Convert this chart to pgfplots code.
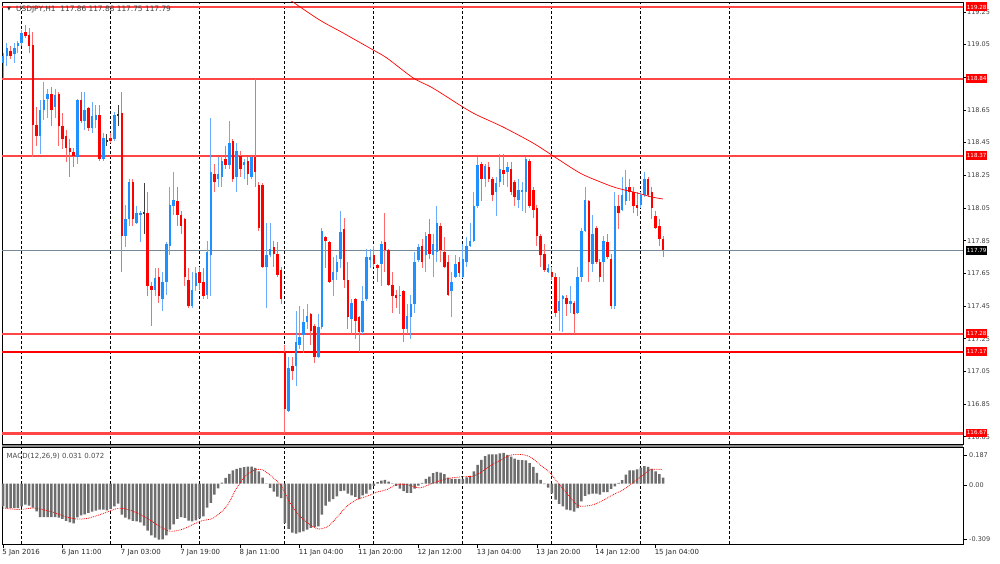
\documentclass[border=0pt]{standalone}
\usepackage{pgfplots}
\pgfplotsset{compat=1.18}
\usepackage{pgfplotstable}
\usepackage{fontspec}
\setmainfont{DejaVu Sans}
\definecolor{bodyblue}{RGB}{30,144,255}
\definecolor{wickblue}{RGB}{105,172,255}
\definecolor{bodyred}{RGB}{255,0,0}
\definecolor{wickred}{RGB}{255,105,105}
\definecolor{linered}{RGB}{255,70,70}
\definecolor{bidgray}{RGB}{119,136,153}
\definecolor{histgray}{RGB}{110,110,110}
\newcommand\lab{\fontsize{7}{8}\selectfont}
\newcommand\tlab{\fontsize{7.4}{8.4}\selectfont}
\newcommand\plab{\fontsize{6.5}{7.5}\selectfont}
\newcommand\blab{\fontsize{5.6}{6}\selectfont}
\pgfplotsset{
  candle/.style={draw=none, mark=none, no markers,
    error bars/.cd, y dir=both, y explicit, error mark=none,
    error bar style={draw=#1}},
  level/.style={draw=#1, mark=none, no markers},
}

\pgfplotstableread{
i o h l c
-5 118.94 119.00 118.84 118.98
-4 118.98 119.06 118.92 119.03
-3 119.01 119.04 118.96 118.98
-2 118.99 119.06 118.94 119.03
-1 119.04 119.07 119.00 119.06
0 119.06 119.14 119.04 119.12
1 119.13 119.17 119.09 119.10
2 119.11 119.15 119.00 119.04
3 119.05 119.13 118.36 118.56
4 118.56 118.67 118.43 118.49
5 118.49 118.71 118.38 118.65
6 118.65 118.82 118.59 118.71
7 118.72 118.78 118.60 118.75
8 118.75 118.79 118.55 118.65
9 118.67 118.78 118.60 118.74
10 118.75 118.76 118.43 118.55
11 118.55 118.63 118.41 118.47
12 118.49 118.53 118.33 118.42
13 118.42 118.47 118.24 118.39
14 118.39 118.42 118.30 118.37
15 118.36 118.72 118.32 118.71
16 118.71 118.76 118.57 118.58
17 118.58 118.76 118.53 118.65
18 118.66 118.67 118.52 118.54
19 118.54 118.70 118.51 118.61
20 118.59 118.68 118.54 118.62
21 118.62 118.68 118.34 118.35
22 118.35 118.51 118.34 118.48
23 118.46 118.50 118.43 118.46
24 118.48 118.51 118.45 118.46
25 118.47 118.64 118.46 118.62
26 118.62 118.68 118.55 118.62
27 118.63 118.76 117.66 117.88
28 117.88 118.07 117.81 117.98
29 117.98 118.23 117.94 118.21
30 118.21 118.23 117.94 117.98
31 117.96 118.06 117.95 118.02
32 118.01 118.03 117.84 118.02
33 118.02 118.20 117.89 118.02
34 118.02 118.15 117.51 117.57
35 117.57 117.60 117.33 117.55
36 117.55 117.68 117.51 117.62
37 117.63 117.68 117.47 117.51
38 117.49 117.66 117.42 117.60
39 117.60 117.84 117.52 117.83
40 117.82 118.18 117.76 118.07
41 118.06 118.27 118.01 118.10
42 118.09 118.18 117.94 118.01
43 118.01 118.03 117.89 117.94
44 117.98 117.99 117.57 117.63
45 117.61 117.68 117.44 117.45
46 117.45 117.66 117.44 117.55
47 117.57 117.69 117.54 117.65
48 117.66 117.69 117.55 117.59
49 117.60 117.68 117.49 117.51
50 117.52 117.85 117.49 117.78
51 117.76 118.60 117.51 118.27
52 118.26 118.32 118.15 118.21
53 118.23 118.36 118.18 118.26
54 118.24 118.37 118.18 118.34
55 118.35 118.43 118.29 118.31
56 118.31 118.58 118.29 118.45
57 118.46 118.47 118.21 118.23
58 118.24 118.45 118.15 118.40
59 118.37 118.40 118.24 118.29
60 118.31 118.35 118.23 118.33
61 118.34 118.36 118.19 118.26
62 118.24 118.37 118.23 118.36
63 118.36 118.84 118.18 118.27
64 118.19 118.21 117.91 117.93
65 118.19 118.20 117.68 117.69
66 117.69 117.96 117.44 117.76
67 117.76 117.96 117.75 117.80
68 117.81 117.85 117.69 117.77
69 117.77 117.84 117.63 117.64
70 117.67 117.69 117.46 117.49
71 117.17 117.21 116.67 116.82
72 116.81 117.14 116.80 117.07
73 117.08 117.14 117.00 117.05
74 117.08 117.42 116.96 117.23
75 117.21 117.45 117.19 117.26
76 117.27 117.43 117.16 117.35
77 117.35 117.46 117.31 117.39
78 117.40 117.41 117.21 117.30
79 117.33 117.34 117.10 117.14
80 117.14 117.40 117.13 117.32
81 117.32 117.93 117.31 117.91
82 117.87 117.88 117.68 117.85
83 117.84 117.85 117.59 117.60
84 117.61 117.75 117.51 117.66
85 117.66 117.76 117.61 117.72
86 117.74 118.03 117.68 117.90
87 117.92 117.99 117.56 117.61
88 117.61 117.72 117.31 117.38
89 117.37 117.49 117.28 117.47
90 117.49 117.50 117.25 117.36
91 117.38 117.39 117.17 117.29
92 117.29 117.57 117.28 117.48
93 117.49 117.80 117.48 117.75
94 117.73 117.80 117.68 117.75
95 117.76 117.82 117.69 117.71
96 117.70 117.71 117.60 117.68
97 117.71 117.85 117.57 117.83
98 117.84 118.02 117.66 117.79
99 117.79 117.80 117.57 117.58
100 117.58 117.66 117.41 117.51
101 117.52 117.55 117.44 117.50
102 117.51 117.57 117.40 117.52
103 117.54 117.55 117.23 117.31
104 117.31 117.46 117.28 117.39
105 117.38 117.52 117.25 117.46
106 117.46 117.78 117.41 117.72
107 117.73 117.83 117.72 117.81
108 117.82 117.86 117.68 117.72
109 117.76 117.90 117.66 117.88
110 117.89 117.98 117.74 117.77
111 117.76 117.89 117.63 117.83
112 117.78 118.06 117.72 117.96
113 117.94 117.96 117.72 117.79
114 117.78 117.87 117.68 117.69
115 117.72 117.76 117.51 117.52
116 117.54 117.66 117.38 117.60
117 117.63 117.76 117.62 117.71
118 117.72 117.75 117.63 117.65
119 117.63 117.83 117.62 117.74
120 117.72 117.87 117.69 117.82
121 117.82 117.96 117.81 117.85
122 117.85 118.15 117.84 118.06
123 118.06 118.36 118.05 118.31
124 118.32 118.33 118.09 118.23
125 118.23 118.32 118.18 118.31
126 118.30 118.33 118.21 118.23
127 118.23 118.24 118.09 118.13
128 118.15 118.24 118.00 118.20
129 118.21 118.38 118.18 118.29
130 118.28 118.38 118.19 118.26
131 118.27 118.33 118.18 118.30
132 118.29 118.33 118.13 118.15
133 118.21 118.22 118.06 118.12
134 118.10 118.23 118.05 118.16
135 118.15 118.21 118.03 118.16
136 118.15 118.36 118.02 118.35
137 118.34 118.35 118.05 118.06
138 118.16 118.18 117.99 118.04
139 118.05 118.07 117.82 117.88
140 117.88 117.89 117.69 117.76
141 117.77 117.83 117.66 117.67
142 117.66 117.71 117.65 117.68
143 117.66 117.69 117.61 117.63
144 117.63 117.65 117.38 117.41
145 117.42 117.63 117.30 117.48
146 117.49 117.52 117.29 117.51
147 117.50 117.52 117.39 117.46
148 117.46 117.57 117.41 117.48
149 117.47 117.48 117.28 117.40
150 117.41 117.69 117.40 117.63
151 117.63 117.93 117.60 117.91
152 117.91 118.18 117.90 118.10
153 118.09 118.10 117.60 117.72
154 117.71 118.01 117.66 117.89
155 117.93 117.94 117.71 117.72
156 117.72 117.74 117.60 117.63
157 117.72 117.88 117.60 117.85
158 117.84 117.89 117.74 117.75
159 117.74 117.77 117.43 117.45
160 117.45 118.15 117.43 118.06
161 118.06 118.13 117.92 118.02
162 118.04 118.24 118.03 118.13
163 118.09 118.28 118.07 118.18
164 118.18 118.23 118.09 118.15
165 118.15 118.18 118.02 118.06
166 118.07 118.15 118.00 118.05
167 118.07 118.15 118.05 118.13
168 118.13 118.27 118.12 118.23
169 118.23 118.24 118.12 118.13
170 118.15 118.18 117.98 118.05
171 118.00 118.03 117.92 117.93
172 117.94 117.98 117.82 117.86
173 117.86 117.88 117.75 117.79
}\candles

\pgfplotstableread{
i m
-5 -0.116
-4 -0.125
-3 -0.125
-2 -0.125
-1 -0.125
0 -0.116
1 -0.108
2 -0.113
3 -0.123
4 -0.142
5 -0.171
6 -0.171
7 -0.171
8 -0.171
9 -0.171
10 -0.174
11 -0.181
12 -0.191
13 -0.198
14 -0.203
15 -0.173
16 -0.162
17 -0.157
18 -0.150
19 -0.144
20 -0.138
21 -0.133
22 -0.133
23 -0.137
24 -0.130
25 -0.116
26 -0.103
27 -0.159
28 -0.174
29 -0.183
30 -0.191
31 -0.193
32 -0.198
33 -0.215
34 -0.241
35 -0.265
36 -0.277
37 -0.287
38 -0.285
39 -0.265
40 -0.236
41 -0.209
42 -0.181
43 -0.171
44 -0.176
45 -0.190
46 -0.193
47 -0.188
48 -0.178
49 -0.168
50 -0.123
51 -0.099
52 -0.056
53 -0.024
54 0.005
55 0.029
56 0.050
57 0.067
58 0.075
59 0.080
60 0.084
61 0.087
62 0.087
63 0.080
64 0.062
65 0.031
66 -0.002
67 -0.022
68 -0.041
69 -0.067
70 -0.075
71 -0.202
72 -0.232
73 -0.251
74 -0.256
75 -0.250
76 -0.244
77 -0.236
78 -0.227
79 -0.222
80 -0.219
81 -0.159
82 -0.113
83 -0.092
84 -0.079
85 -0.065
86 -0.039
87 -0.036
88 -0.051
89 -0.060
90 -0.068
91 -0.079
92 -0.060
93 -0.051
94 -0.031
95 -0.012
96 0.007
97 0.015
98 0.019
99 0.010
100 -0.002
101 -0.012
102 -0.026
103 -0.039
104 -0.048
105 -0.048
106 -0.026
107 -0.010
108 0.003
109 0.024
110 0.036
111 0.053
112 0.060
113 0.056
114 0.048
115 0.031
116 0.024
117 0.024
118 0.024
119 0.024
120 0.032
121 0.039
122 0.062
123 0.096
124 0.121
125 0.140
126 0.149
127 0.149
128 0.149
129 0.154
130 0.157
131 0.147
132 0.138
133 0.128
134 0.121
135 0.120
136 0.118
137 0.104
138 0.085
139 0.055
140 0.019
141 -0.003
142 -0.021
143 -0.050
144 -0.082
145 -0.104
146 -0.116
147 -0.133
148 -0.137
149 -0.144
150 -0.125
151 -0.091
152 -0.063
153 -0.055
154 -0.051
155 -0.051
156 -0.056
157 -0.044
158 -0.044
159 -0.027
160 -0.014
161 0.003
162 0.017
163 0.046
164 0.067
165 0.068
166 0.072
167 0.082
168 0.089
169 0.085
170 0.075
171 0.062
172 0.048
173 0.031
}\macd

\begin{document}
\begin{tikzpicture}
\path[use as bounding box, fill=white] (0pt,0pt) rectangle (1000pt,564pt);
\fill[black!45] (2pt,117pt) rectangle (963pt,120pt);

\begin{axis}[
  at={(2pt,120pt)}, anchor=south west, scale only axis,
  width=961pt, height=442pt,
  xmin=-5.314, xmax=253.93, ymin=116.6057, ymax=119.3106,
  xtick=\empty,
  extra x ticks={0,24,48,71,95,119,143,167,191},
  extra x tick labels={},
  extra x tick style={grid=major, major tick length=0pt},
  major grid style={black, line width=0.9pt, dash pattern=on 3pt off 2pt},
  ytick={116.65,116.85,117.05,117.25,117.45,117.65,117.85,118.05,118.25,118.45,118.65,118.85,119.05,119.25},
  yticklabels={\raisebox{-5pt}{116.65},116.85,117.05,\raisebox{-2.5pt}{117.25},117.45,117.65,117.85,118.05,118.25,118.45,118.65,{},119.05,\raisebox{-2.5pt}{119.25}},
  ytick pos=right, yticklabel pos=right, tick align=outside, major tick length=3pt,
  ytick style={black, line width=0.6pt},
  yticklabel style={font=\plab, text=black!75, anchor=west, inner sep=1pt},
  axis line style={black, line width=0.8pt},
  clip mode=individual,
]
% level lines
\addplot[level=linered, line width=2.2pt] coordinates {(-5.314,119.28) (253.93,119.28)};
\addplot[level=linered, line width=2.2pt] coordinates {(-5.314,118.84) (253.93,118.84)};
\addplot[level=linered, line width=2.2pt] coordinates {(-5.314,118.37) (253.93,118.37)};
\addplot[level=linered, line width=2.2pt] coordinates {(-5.314,117.28) (253.93,117.28)};
\addplot[level=bodyred, line width=2pt] coordinates {(-5.314,117.17) (253.93,117.17)};
\addplot[level=linered, line width=2.4pt] coordinates {(-5.314,116.67) (253.93,116.67)};
\addplot[level=bidgray, line width=0.8pt] coordinates {(-5.314,117.79) (253.93,117.79)};

% wicks
\addplot[restrict expr to domain={\thisrow{c}-\thisrow{o}}{0.0001:10},
  candle=wickblue, error bar style={line width=1pt}]
  table[x=i, y=c, y error plus expr=\thisrow{h}-\thisrow{c}, y error minus expr=\thisrow{c}-\thisrow{l}] {\candles};
\addplot[restrict expr to domain={\thisrow{c}-\thisrow{o}}{-10:-0.0001},
  candle=wickred, error bar style={line width=1pt}]
  table[x=i, y=c, y error plus expr=\thisrow{h}-\thisrow{c}, y error minus expr=\thisrow{c}-\thisrow{l}] {\candles};
\addplot[restrict expr to domain={\thisrow{c}-\thisrow{o}}{-0.00005:0.00005},
  candle=black!75, error bar style={line width=1pt}]
  table[x=i, y=c, y error plus expr=\thisrow{h}-\thisrow{c}, y error minus expr=\thisrow{c}-\thisrow{l}] {\candles};
% bodies
\addplot[restrict expr to domain={\thisrow{c}-\thisrow{o}}{0.0001:10},
  candle=bodyblue, error bar style={line width=2.5pt}]
  table[x=i, y=o, y error plus expr=\thisrow{c}-\thisrow{o}, y error minus expr=0] {\candles};
\addplot[restrict expr to domain={\thisrow{c}-\thisrow{o}}{-10:-0.0001},
  candle=bodyred, error bar style={line width=2.5pt}]
  table[x=i, y=c, y error plus expr=\thisrow{o}-\thisrow{c}, y error minus expr=0] {\candles};
\addplot[restrict expr to domain={\thisrow{c}-\thisrow{o}}{-0.00005:0.00005},
  candle=black!80, error bar style={line width=2.5pt}]
  table[x=i, y=c, y error plus expr=0.003, y error minus expr=0.003] {\candles};

% moving average
\addplot[level=red, line width=0.7pt, smooth] coordinates {
(71,119.344) (73.7,119.302) (80.4,119.200) (86.7,119.121) (94.8,119.017) (98.5,118.968)
(105.6,118.846) (110.9,118.784) (119.0,118.668) (122.8,118.619) (129.8,118.546)
(137.9,118.448) (143.0,118.374) (150.6,118.264) (156.8,118.203) (160.6,118.172)
(166.0,118.142) (170.0,118.117) (173.0,118.105)};

% right-hand price boxes
\node[fill=bodyred, text=white, font=\blab, minimum width=21pt, minimum height=9pt, inner sep=0pt, anchor=west, xshift=3pt] at (axis cs:253.93,119.28) {119.28};
\node[fill=bodyred, text=white, font=\blab, minimum width=21pt, minimum height=9pt, inner sep=0pt, anchor=west, xshift=3pt] at (axis cs:253.93,118.84) {118.84};
\node[fill=bodyred, text=white, font=\blab, minimum width=21pt, minimum height=9pt, inner sep=0pt, anchor=west, xshift=3pt] at (axis cs:253.93,118.37) {118.37};
\node[fill=black, text=white, font=\blab, minimum width=21pt, minimum height=9pt, inner sep=0pt, anchor=west, xshift=3pt] at (axis cs:253.93,117.79) {117.79};
\node[fill=bodyred, text=white, font=\blab, minimum width=21pt, minimum height=9pt, inner sep=0pt, anchor=west, xshift=3pt] at (axis cs:253.93,117.28) {117.28};
\node[fill=bodyred, text=white, font=\blab, minimum width=21pt, minimum height=9pt, inner sep=0pt, anchor=west, xshift=3pt] at (axis cs:253.93,117.17) {117.17};
\node[fill=bodyred, text=white, font=\blab, minimum width=21pt, minimum height=8pt, inner sep=0pt, anchor=west, xshift=3pt] at (axis cs:253.93,116.675) {116.67};
\end{axis}

\begin{axis}[
  at={(2pt,20pt)}, anchor=south west, scale only axis,
  width=961pt, height=97pt,
  xmin=-5.314, xmax=253.93, ymin=-0.309, ymax=0.187,
  ytick=\empty,
  xtick={-5,11,27,43,59,75,91,107,123,139,155,171},
  xticklabels={5 Jan 2016,6 Jan 11:00,7 Jan 03:00,7 Jan 19:00,8 Jan 11:00,11 Jan 04:00,11 Jan 20:00,12 Jan 12:00,13 Jan 04:00,13 Jan 20:00,14 Jan 12:00,15 Jan 04:00},
  xtick pos=left, tick align=outside, major tick length=4pt,
  xtick style={black, line width=0.6pt},
  xticklabel style={font=\lab, text=black!85, anchor=north west, inner sep=0pt, xshift=-1pt, yshift=-1pt},
  extra x ticks={0,24,48,71,95,119,143,167,191},
  extra x tick labels={},
  extra x tick style={grid=major, major tick length=0pt},
  major grid style={black, line width=0.9pt, dash pattern=on 3pt off 2pt},
  axis line style={black, line width=0.8pt},
  clip mode=individual,
]
\addplot[ybar, bar width=2.5pt, fill=histgray, draw=none] table[x=i, y=m] {\macd};
\addplot[red, line width=0.8pt, densely dotted, smooth] coordinates {
(-5,-0.125) (-0.5,-0.133) (3.1,-0.125) (7.6,-0.142) (12.1,-0.171) (14.8,-0.181)
(17.5,-0.179) (21.1,-0.159) (25.6,-0.128) (27.4,-0.128) (30.1,-0.142) (33.7,-0.176)
(37.3,-0.219) (40,-0.244) (43.6,-0.232) (48.1,-0.193) (51.7,-0.176) (55.3,-0.116)
(58,-0.022) (60.7,0.046) (63.4,0.072) (65.2,0.068) (67.9,0.029) (70.1,-0.014)
(72.4,-0.099) (75.1,-0.168) (77.8,-0.210) (80,-0.232) (82.3,-0.222) (84.1,-0.193)
(87.7,-0.116) (90.4,-0.082) (93.1,-0.065) (95.8,-0.044) (98.5,-0.031) (101.2,-0.005)
(103.9,-0.005) (107.4,-0.022) (111,0.003) (114.6,0.024) (118.2,0.034) (121.8,0.038)
(123.6,0.055) (126.3,0.089) (129,0.118) (131.7,0.144) (134.4,0.149) (137.1,0.137)
(139.8,0.097) (142.5,0.055) (144.3,0.012) (147,-0.048) (149.7,-0.108) (151.5,-0.116)
(154.2,-0.108) (156.9,-0.085) (159.6,-0.056) (162.3,-0.031) (165,0.007) (167.8,0.046)
(169.6,0.072) (172.7,0.072)};
\end{axis}

% titles and MACD scale labels
\node[anchor=center, inner sep=0pt, font=\fontsize{5}{5}\selectfont, text=black!80] at (9pt,554.5pt) {▼};
\node[anchor=west, inner sep=0pt, font=\tlab, text=black!75] at (16pt,554pt) {USDJPY,H1\ \ 117.86 117.88 117.75 117.79};
\node[anchor=west, inner sep=0pt, font=\lab, text=black!70] at (6.5pt,107.5pt) {MACD(12,26,9) 0.031 0.072};
\draw[black, line width=0.6pt] (963pt,109pt) -- (967pt,109pt);
\draw[black, line width=0.6pt] (963pt,79pt) -- (967pt,79pt);
\draw[black, line width=0.6pt] (963pt,25pt) -- (967pt,25pt);
\node[anchor=west, inner sep=0pt, font=\plab, text=black!75] at (969pt,109pt) {0.187};
\node[anchor=west, inner sep=0pt, font=\plab, text=black!75] at (969pt,79pt) {0.00};
\node[anchor=west, inner sep=0pt, font=\plab, text=black!75] at (969pt,25pt) {-0.309};
\end{tikzpicture}
\end{document}
